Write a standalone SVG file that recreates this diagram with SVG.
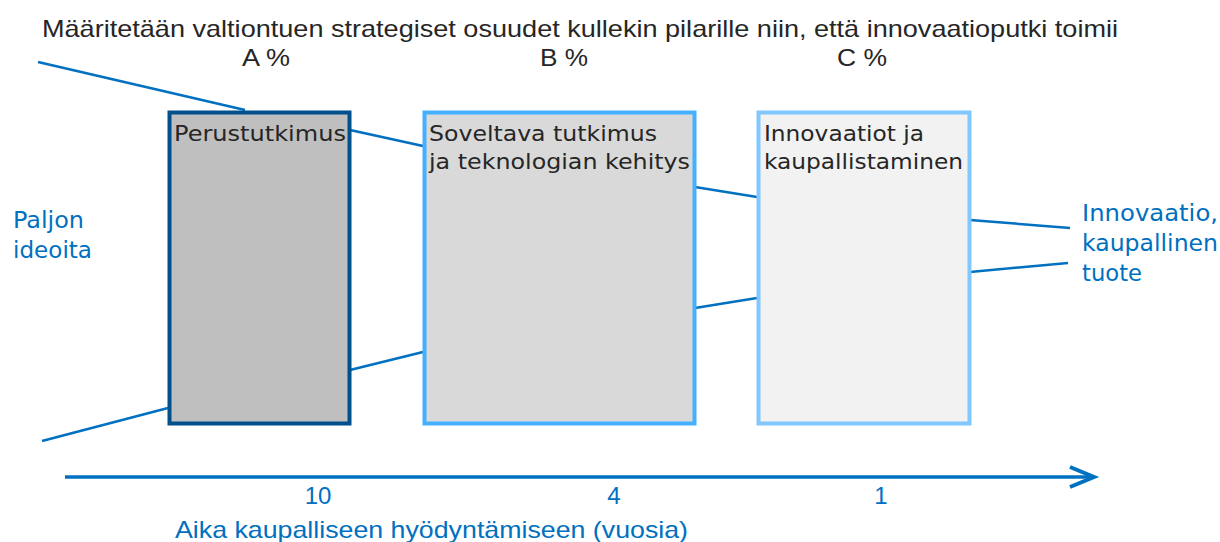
<svg xmlns="http://www.w3.org/2000/svg" width="1220" height="542" viewBox="0 0 1220 542">
<style>
.ttl{font-family:"Liberation Sans",Arial,sans-serif;font-size:24px;fill:#262626}
.lbl{font-family:"DejaVu Sans",Verdana,sans-serif;font-size:21.5px;fill:#262626}
.blue{font-family:"DejaVu Sans",Verdana,sans-serif;font-size:22.5px;fill:#0070C0}
.ax{font-family:"Liberation Sans",Arial,sans-serif;font-size:24px;fill:#0070C0}
.ln{stroke:#0070C0;stroke-width:2.5;fill:none}
</style>
<rect width="1220" height="542" fill="#fff"/>
<text class="ttl" x="42" y="37" textLength="1076" lengthAdjust="spacingAndGlyphs">Määritetään valtiontuen strategiset osuudet kullekin pilarille niin, että innovaatioputki toimii</text>
<text class="ttl" x="266" y="66" text-anchor="middle" textLength="48" lengthAdjust="spacingAndGlyphs">A %</text>
<text class="ttl" x="564" y="66" text-anchor="middle" textLength="48" lengthAdjust="spacingAndGlyphs">B %</text>
<text class="ttl" x="862" y="66" text-anchor="middle" textLength="50" lengthAdjust="spacingAndGlyphs">C %</text>
<g id="connectors">
<line class="ln" x1="38" y1="62" x2="245" y2="110"/>
<line class="ln" x1="350" y1="130" x2="423" y2="146"/>
<line class="ln" x1="695" y1="187" x2="757" y2="197"/>
<line class="ln" x1="970" y1="220" x2="1070" y2="228"/>
<line class="ln" x1="42" y1="441" x2="168" y2="408"/>
<line class="ln" x1="350" y1="370" x2="423" y2="352"/>
<line class="ln" x1="695" y1="308" x2="757" y2="298"/>
<line class="ln" x1="970" y1="272" x2="1068" y2="263"/>
<line x1="65" y1="477" x2="1090" y2="477" stroke="#0070C0" stroke-width="3.5"/>
<polyline points="1070,467 1094,477 1070,487" fill="none" stroke="#0070C0" stroke-width="4" stroke-linejoin="miter"/>
</g>
<g id="perustutkimus">
<rect x="169.5" y="112.5" width="180" height="311" fill="#BFBFBF" stroke="#00508C" stroke-width="4"/>
<text class="lbl" x="174" y="141" textLength="172" lengthAdjust="spacingAndGlyphs">Perustutkimus</text>
</g>
<g id="soveltava">
<rect x="424.5" y="112.5" width="270" height="311" fill="#D9D9D9" stroke="#44B0FF" stroke-width="4"/>
<text class="lbl" x="429" y="141" textLength="228" lengthAdjust="spacingAndGlyphs">Soveltava tutkimus</text>
<text class="lbl" x="429" y="169" textLength="261" lengthAdjust="spacingAndGlyphs">ja teknologian kehitys</text>
</g>
<g id="innovaatiot">
<rect x="758.5" y="112.5" width="211" height="311" fill="#F2F2F2" stroke="#80C8FF" stroke-width="4"/>
<text class="lbl" x="764" y="141" textLength="160" lengthAdjust="spacingAndGlyphs">Innovaatiot ja</text>
<text class="lbl" x="764" y="169" textLength="199" lengthAdjust="spacingAndGlyphs">kaupallistaminen</text>
</g>
<g id="paljon">
<text class="blue" x="13" y="228" textLength="71" lengthAdjust="spacingAndGlyphs">Paljon</text>
<text class="blue" x="13" y="258" textLength="79" lengthAdjust="spacingAndGlyphs">ideoita</text>
</g>
<g id="innovaatio">
<text class="blue" x="1082" y="221" textLength="136" lengthAdjust="spacingAndGlyphs">Innovaatio,</text>
<text class="blue" x="1082" y="251" textLength="136" lengthAdjust="spacingAndGlyphs">kaupallinen</text>
<text class="blue" x="1082" y="281" textLength="60" lengthAdjust="spacingAndGlyphs">tuote</text>
</g>
<g id="axis-labels">
<text class="ax" x="318" y="504" text-anchor="middle">10</text>
<text class="ax" x="614" y="504" text-anchor="middle">4</text>
<text class="ax" x="881" y="504" text-anchor="middle">1</text>
<text class="ax" x="175" y="538" textLength="513" lengthAdjust="spacingAndGlyphs">Aika kaupalliseen hyödyntämiseen (vuosia)</text>
</g>
</svg>
